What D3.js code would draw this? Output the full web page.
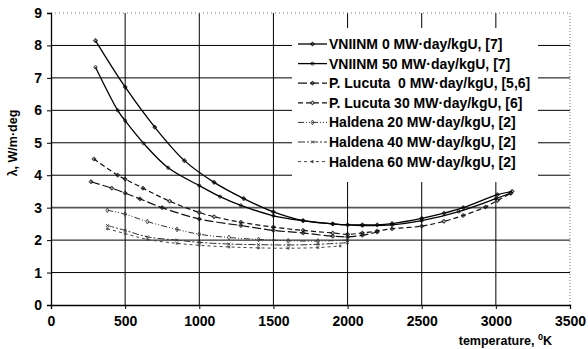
<!DOCTYPE html>
<html>
<head>
<meta charset="utf-8">
<script src="https://cdn.jsdelivr.net/npm/d3@7"></script>
<style>
  body { margin: 0; background: #fff; }
  svg text { font-family: "Liberation Sans", Arial, sans-serif; }
</style>
</head>
<body>
<figure id="chart" style="margin:0"></figure>
<script>
// tick labels
const xTicks = [0, 500, 1000, 1500, 2000, 2500, 3000, 3500];
const yTicks = [0, 1, 2, 3, 4, 5, 6, 7, 8, 9];

const seriesNames = [
  "VNIINM 0 MW·day/kgU, [7]",
  "VNIINM 50 MW·day/kgU, [7]",
  "P. Lucuta  0 MW·day/kgU, [5,6]",
  "P. Lucuta 30 MW·day/kgU, [6]",
  "Haldena 20 MW·day/kgU, [2]",
  "Haldena 40 MW·day/kgU, [2]",
  "Haldena 60 MW·day/kgU, [2]"
];

// temperature (K) / conductivity (W/m·deg)
const vniinm0T = [300, 500, 700, 900, 1100, 1300, 1500, 1700, 1900, 2000, 2100, 2200, 2300, 2500, 2650, 2780, 3010, 3110];
const vniinm0L = [8.15, 6.72, 5.48, 4.45, 3.78, 3.28, 2.87, 2.6, 2.5, 2.47, 2.47, 2.47, 2.51, 2.67, 2.83, 3.0, 3.4, 3.5];

const vniinm50T = [300, 450, 500, 625, 790, 1000, 1140, 1280, 1500, 1700, 1900, 2100, 2300, 2500, 2750, 3000, 3100];
const vniinm50L = [7.33, 6.0, 5.68, 4.98, 4.23, 3.68, 3.34, 3.07, 2.75, 2.6, 2.5, 2.45, 2.47, 2.6, 2.88, 3.28, 3.45];

const lucuta0T = [270, 410, 500, 600, 750, 1000, 1280, 1500, 1700, 1900, 2000, 2100, 2200];
const lucuta0L = [3.8, 3.6, 3.45, 3.27, 3.0, 2.65, 2.45, 2.3, 2.22, 2.12, 2.1, 2.15, 2.25];

const lucuta30T = [290, 450, 500, 620, 800, 1000, 1100, 1280, 1500, 1700, 1900, 2000, 2100, 2200, 2300, 2500, 2650, 2780, 2930, 3010, 3100];
const lucuta30L = [4.5, 4.0, 3.88, 3.6, 3.2, 2.85, 2.72, 2.55, 2.4, 2.3, 2.22, 2.18, 2.22, 2.28, 2.35, 2.43, 2.58, 2.76, 3.02, 3.22, 3.44];

const halden20T = [380, 500, 650, 850, 1000, 1200, 1400, 1600, 1800, 2000];
const halden20L = [2.92, 2.8, 2.57, 2.33, 2.18, 2.08, 2.02, 1.98, 1.97, 2.0];

const halden40T = [380, 500, 650, 850, 1000, 1200, 1400, 1600, 1800, 2000];
const halden40L = [2.45, 2.3, 2.1, 2.0, 1.93, 1.88, 1.86, 1.85, 1.87, 1.92];

const halden60T = [380, 500, 650, 850, 1000, 1200, 1400, 1600, 1800, 1950];
const halden60L = [2.35, 2.2, 2.02, 1.9, 1.84, 1.79, 1.76, 1.75, 1.77, 1.82];

const allT = [vniinm0T, vniinm50T, lucuta0T, lucuta30T, halden20T, halden40T, halden60T];
const allL = [vniinm0L, vniinm50L, lucuta0L, lucuta30L, halden20L, halden40L, halden60L];

// line look per series
const dashes = [null, null, "9,3", "5,3", "6,2,1,2,1,2", "7,2,2,2", "3,3"];
const strokes = ["#000", "#000", "#111", "#111", "#333", "#333", "#444"];
const widths = [1.3, 1.3, 1.2, 1.2, 1.0, 1.0, 1.0];
const markers = [d3.symbolCross, d3.symbolCircle, d3.symbolCross, d3.symbolCross, d3.symbolDiamond, d3.symbolTimes, d3.symbolAsterisk];

const W = 588, H = 349;
const plotLeft = 51, plotRight = 570, plotTop = 13, plotBottom = 305;

const svg = d3.select("#chart").append("svg")
  .attr("width", W).attr("height", H);

const x = d3.scaleLinear().domain([0, 3500]).range([plotLeft, plotRight]);
const y = d3.scaleLinear().domain([0, 9]).range([plotBottom, plotTop]);

// grid
svg.append("g").selectAll("line")
  .data(yTicks.filter(d => d > 0 && d < 9))
  .enter().append("line")
  .attr("x1", plotLeft).attr("x2", plotRight)
  .attr("y1", d => y(d)).attr("y2", d => y(d))
  .attr("stroke", d => d === 3 ? "#555" : "#000")
  .attr("stroke-width", d => d === 3 ? 1.6 : 1);

svg.append("g").selectAll("line")
  .data(xTicks.filter(d => d > 0 && d < 3500))
  .enter().append("line")
  .attr("x1", d => x(d)).attr("x2", d => x(d))
  .attr("y1", plotTop).attr("y2", plotBottom)
  .attr("stroke", "#000")
  .attr("stroke-width", 1);

// dotted frame on top and right
svg.append("line").attr("x1", plotLeft).attr("x2", plotRight).attr("y1", plotTop).attr("y2", plotTop)
  .attr("stroke", "#777").attr("stroke-dasharray", "1,3");
svg.append("line").attr("x1", plotRight).attr("x2", plotRight).attr("y1", plotTop).attr("y2", plotBottom)
  .attr("stroke", "#777").attr("stroke-dasharray", "1,2");

// axes
const xAxis = svg.append("g")
  .attr("transform", "translate(0," + plotBottom + ")")
  .call(d3.axisBottom(x).tickValues(xTicks).tickSize(4).tickPadding(7).tickFormat(d3.format("d")));
const yAxis = svg.append("g")
  .attr("transform", "translate(" + plotLeft + ",0)")
  .call(d3.axisLeft(y).tickValues(yTicks).tickSize(4).tickPadding(5).tickFormat(d3.format("d")));

[xAxis, yAxis].forEach(a => {
  a.select(".domain").attr("stroke", "#000").attr("stroke-width", 1.3);
  a.selectAll(".tick line").attr("stroke", "#000");
  a.selectAll("text")
    .style("font-size", "14px")
    .style("font-weight", "bold")
    .attr("fill", "#000");
});

// curves
const line = d3.line()
  .x(d => x(d[0]))
  .y(d => y(d[1]))
  .curve(d3.curveCatmullRom.alpha(0.5));

allT.forEach((ts, i) => {
  const pts = ts.map((t, j) => [t, allL[i][j]]);
  svg.append("path")
    .datum(pts)
    .attr("d", line)
    .attr("fill", "none")
    .attr("stroke", strokes[i])
    .attr("stroke-width", widths[i])
    .attr("stroke-dasharray", dashes[i]);

  svg.append("g").selectAll("path")
    .data(pts)
    .enter().append("path")
    .attr("transform", d => "translate(" + x(d[0]) + "," + y(d[1]) + ")")
    .attr("d", d3.symbol().type(markers[i]).size(7))
    .attr("fill", "none")
    .attr("stroke", strokes[i])
    .attr("stroke-width", 0.8);
});

// legend
const legend = svg.append("g");
legend.append("rect")
  .attr("x", 292).attr("y", 28)
  .attr("width", 246).attr("height", 154)
  .attr("fill", "#fff");

seriesNames.forEach((name, i) => {
  const ly = 44 + i * 19.6;
  legend.append("line")
    .attr("x1", 298).attr("x2", 327)
    .attr("y1", ly).attr("y2", ly)
    .attr("stroke", strokes[i])
    .attr("stroke-width", widths[i])
    .attr("stroke-dasharray", dashes[i]);
  legend.append("path")
    .attr("transform", "translate(312.5," + ly + ")")
    .attr("d", d3.symbol().type(markers[i]).size(7))
    .attr("fill", "none")
    .attr("stroke", strokes[i])
    .attr("stroke-width", 0.8);
  legend.append("text")
    .attr("x", 329).attr("y", ly + 5)
    .style("font-size", "14px")
    .style("font-weight", "bold")
    .style("white-space", "pre")
    .text(name);
});

// axis titles
const xt = svg.append("text")
  .attr("x", 552).attr("y", 345)
  .attr("text-anchor", "end")
  .style("font-size", "12.5px")
  .style("font-weight", "bold");
xt.append("tspan").text("temperature, ");
xt.append("tspan").attr("dy", -5).style("font-size", "9px").text("0");
xt.append("tspan").attr("dy", 5).text("K");

svg.append("text")
  .attr("transform", "translate(17,143) rotate(-90)")
  .attr("text-anchor", "middle")
  .style("font-size", "12.5px")
  .style("font-weight", "bold")
  .text("λ, W/m·deg");
</script>
</body>
</html>
